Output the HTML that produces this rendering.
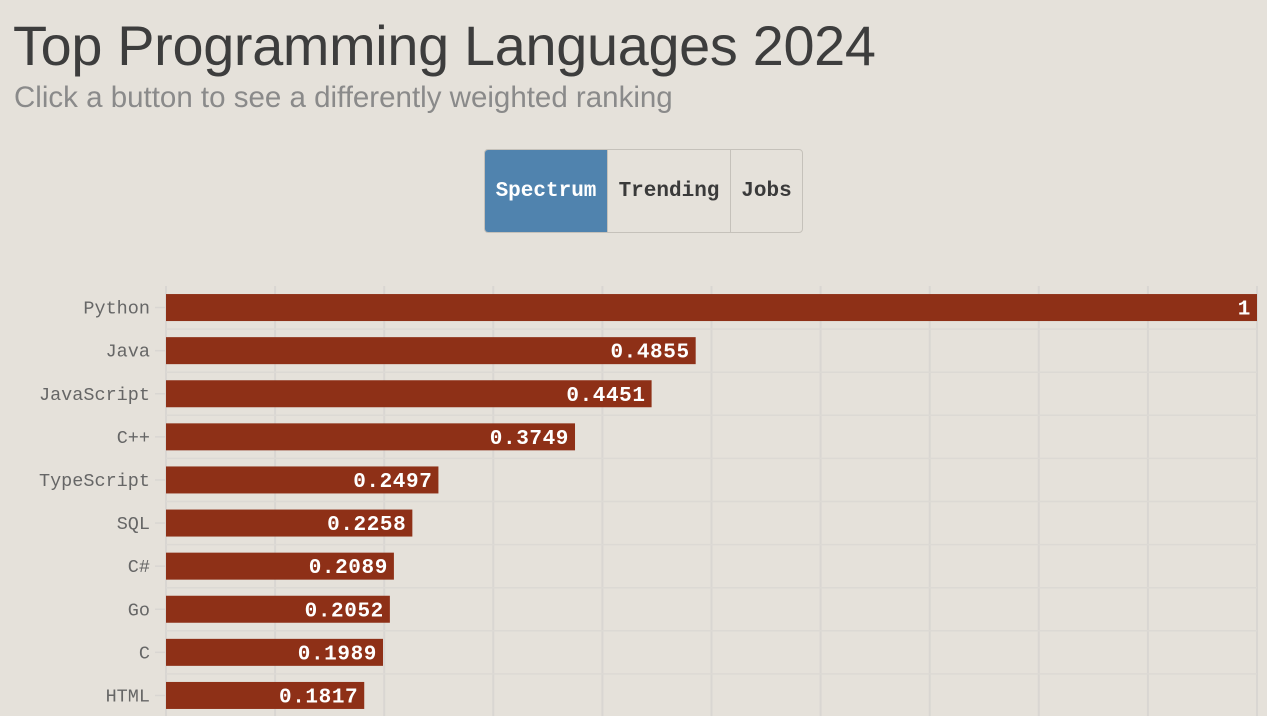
<!DOCTYPE html>
<html><head><meta charset="utf-8"><style>
body{margin:0;width:1267px;height:716px;overflow:hidden;background:#e5e1da;font-family:"Liberation Sans",sans-serif;position:relative}
#title{position:absolute;left:13px;top:13px;font-size:55.8px;color:#3d3d3d;letter-spacing:-0.3px;margin:0;font-weight:normal;white-space:nowrap}
#sub{position:absolute;left:14px;top:81px;font-size:29.5px;color:#8a8a8a;white-space:nowrap}
#btns{position:absolute;left:484px;top:149px;width:317px;height:82px;border:1px solid #c5c1ba;border-radius:4px;display:flex;overflow:hidden}
#btns div{display:flex;align-items:center;justify-content:center;font-family:"Liberation Mono",monospace;font-weight:bold;font-size:21px;color:#3a3a3a;border-right:1px solid #c5c1ba}
#btns div:last-child{border-right:none}
svg{position:absolute;left:0;top:0}
</style></head><body>
<h1 id="title">Top Programming Languages 2024</h1>
<div id="sub">Click a button to see a differently weighted ranking</div>
<div id="btns">
<div style="width:122px;background:#5083ae;color:#fff">Spectrum</div>
<div style="width:122px">Trending</div>
<div style="flex:1">Jobs</div>
</div>
<svg id="chart" width="1267" height="716"></svg>
<script>
const categories=["Python","Java","JavaScript","C++","TypeScript","SQL","C#","Go","C","HTML"];
const values=[1,0.4855,0.4451,0.3749,0.2497,0.2258,0.2089,0.2052,0.1989,0.1817];
const valueLabels=["1","0.4855","0.4451","0.3749","0.2497","0.2258","0.2089","0.2052","0.1989","0.1817"];
const gridTicks=[0,0.1,0.2,0.3,0.4,0.5,0.6,0.7,0.8,0.9,1];
const NS="http://www.w3.org/2000/svg";
const svg=document.getElementById('chart');
const x0=166,x1=1257,top0=286,step=43.1,bh=27;
const x=v=>x0+(x1-x0)*v;
const yc=i=>top0+step*i+step/2;
function mk(t,a){const e=document.createElementNS(NS,t);for(const k in a)e.setAttribute(k,a[k]);svg.appendChild(e);return e;}
gridTicks.forEach(t=>{
const l=mk('line',{x1:x(t),x2:x(t),y1:top0,y2:716,stroke:'#d9d6d2','stroke-width':2});


});
categories.forEach((c,i)=>{
const l=mk('line',{x1:x0,x2:x1,y1:yc(i)+step/2,y2:yc(i)+step/2,stroke:'#dcd9d4','stroke-width':1.5});


const tk=mk('line',{x1:155,x2:166,y1:yc(i),y2:yc(i),stroke:'#d9d6d2','stroke-width':1.5});


});
categories.forEach((c,i)=>{
const r=mk('rect',{x:x0,y:yc(i)-bh/2,width:x(values[i])-x0,height:bh,fill:'#8e3017'});


const lb=mk('text',{x:150,y:yc(i)+6,'text-anchor':'end','font-family':'Liberation Mono, monospace','font-size':18.5,fill:'#666'});
lb.textContent=c;


const vl=mk('text',{x:x(values[i])-6,y:yc(i)+7,'text-anchor':'end','font-family':'Liberation Mono, monospace','font-size':21,'font-weight':'bold','letter-spacing':'0.6',fill:'#fff'});
vl.textContent=valueLabels[i];


});
</script>
</body></html>
